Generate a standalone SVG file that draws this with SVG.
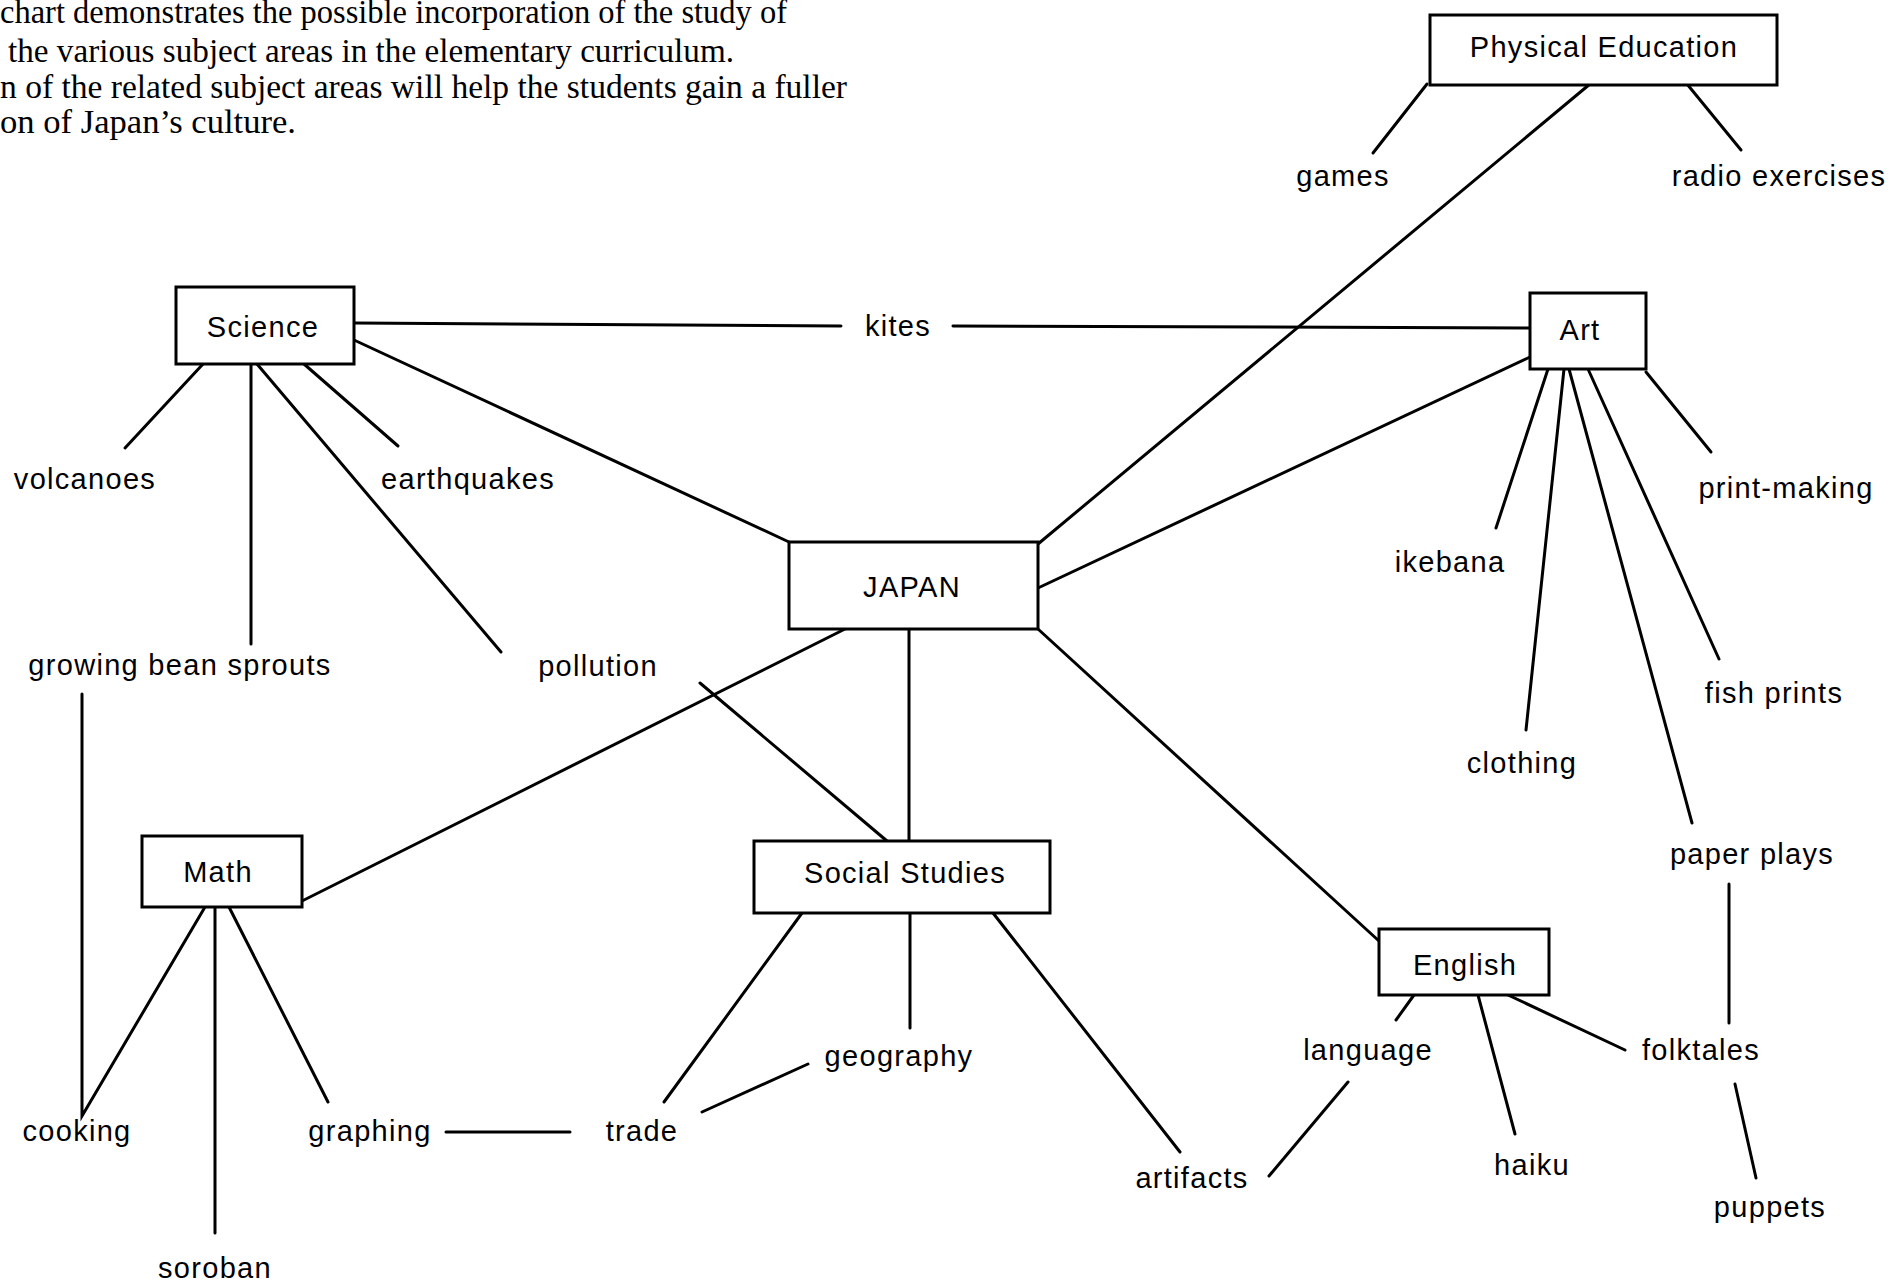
<svg xmlns="http://www.w3.org/2000/svg" width="1892" height="1286" viewBox="0 0 1892 1286">
<style>
.hdr{font-family:"Liberation Serif","Times New Roman",serif;font-size:34px;fill:#000}
.lbl{font-family:"Liberation Sans",Arial,sans-serif;font-size:29px;letter-spacing:1.3px;fill:#000;text-anchor:middle}
.box{fill:#fff;stroke:#000;stroke-width:3}
.cn line,.cn polyline{stroke:#000;stroke-width:3;fill:none;stroke-linecap:round}
</style>
<rect width="1892" height="1286" fill="#fff"/>
<g id="header">
<text class="hdr" x="0" y="23" textLength="787" lengthAdjust="spacingAndGlyphs">chart demonstrates the possible incorporation of the study of</text>
<text class="hdr" x="8" y="62" textLength="726" lengthAdjust="spacingAndGlyphs">the various subject areas in the elementary curriculum.</text>
<text class="hdr" x="0" y="98" textLength="847" lengthAdjust="spacingAndGlyphs">n of the related subject areas will help the students gain a fuller</text>
<text class="hdr" x="0" y="133" textLength="296" lengthAdjust="spacingAndGlyphs">on of Japan’s culture.</text>
</g>
<g id="connectors" class="cn">
<line x1="1427" y1="84" x2="1373" y2="153"/>
<line x1="1590" y1="84" x2="1038" y2="544"/>
<line x1="1687" y1="84" x2="1741" y2="150"/>
<line x1="203" y1="364" x2="125" y2="448"/>
<line x1="251" y1="364" x2="251" y2="644"/>
<line x1="257" y1="364" x2="501" y2="652"/>
<line x1="304" y1="364" x2="398" y2="446"/>
<line x1="354" y1="340" x2="789" y2="542"/>
<line x1="354" y1="323" x2="841" y2="326"/>
<line x1="953" y1="326" x2="1530" y2="328"/>
<line x1="1530" y1="357" x2="1038" y2="588"/>
<line x1="1548" y1="369" x2="1496" y2="528"/>
<line x1="1564" y1="369" x2="1526" y2="730"/>
<line x1="1569" y1="369" x2="1692" y2="823"/>
<line x1="1588" y1="369" x2="1719" y2="659"/>
<line x1="1646" y1="372" x2="1711" y2="452"/>
<line x1="845" y1="629" x2="302" y2="901"/>
<line x1="909" y1="629" x2="909" y2="841"/>
<line x1="1038" y1="629" x2="1379" y2="941"/>
<line x1="700" y1="683" x2="887" y2="841"/>
<polyline points="82,694 82,1116 205,907"/>
<line x1="215" y1="907" x2="215" y2="1233"/>
<line x1="229" y1="907" x2="328" y2="1102"/>
<line x1="446" y1="1132" x2="570" y2="1132"/>
<line x1="664" y1="1102" x2="802" y2="913"/>
<line x1="702" y1="1112" x2="808" y2="1064"/>
<line x1="910" y1="913" x2="910" y2="1028"/>
<line x1="993" y1="913" x2="1180" y2="1152"/>
<line x1="1414" y1="995" x2="1396" y2="1020"/>
<line x1="1478" y1="995" x2="1515" y2="1134"/>
<line x1="1508" y1="995" x2="1625" y2="1050"/>
<line x1="1348" y1="1082" x2="1269" y2="1176"/>
<line x1="1729" y1="884" x2="1729" y2="1023"/>
<line x1="1735" y1="1084" x2="1756" y2="1178"/>
</g>
<g id="node-pe"><rect class="box" x="1430" y="15" width="347" height="70"/><text class="lbl" x="1604" y="57">Physical Education</text></g>
<g id="node-science"><rect class="box" x="176" y="287" width="178" height="77"/><text class="lbl" x="263" y="337">Science</text></g>
<g id="node-art"><rect class="box" x="1530" y="293" width="116" height="76"/><text class="lbl" x="1580" y="340">Art</text></g>
<g id="node-japan"><rect class="box" x="789" y="542" width="249" height="87"/><text class="lbl" x="912" y="597">JAPAN</text></g>
<g id="node-math"><rect class="box" x="142" y="836" width="160" height="71"/><text class="lbl" x="218" y="882">Math</text></g>
<g id="node-social"><rect class="box" x="754" y="841" width="296" height="72"/><text class="lbl" x="905" y="883">Social Studies</text></g>
<g id="node-english"><rect class="box" x="1379" y="929" width="170" height="66"/><text class="lbl" x="1465" y="975">English</text></g>
<g id="leaf-games"><text class="lbl" x="1343" y="186">games</text></g>
<g id="leaf-radio"><text class="lbl" x="1779" y="186">radio exercises</text></g>
<g id="leaf-volcanoes"><text class="lbl" x="85" y="489">volcanoes</text></g>
<g id="leaf-earthquakes"><text class="lbl" x="468" y="489">earthquakes</text></g>
<g id="leaf-bean"><text class="lbl" x="180" y="675">growing bean sprouts</text></g>
<g id="leaf-pollution"><text class="lbl" x="598" y="676">pollution</text></g>
<g id="leaf-kites"><text class="lbl" x="898" y="336">kites</text></g>
<g id="leaf-ikebana"><text class="lbl" x="1450" y="572">ikebana</text></g>
<g id="leaf-printmaking"><text class="lbl" x="1786" y="498">print-making</text></g>
<g id="leaf-fishprints"><text class="lbl" x="1774" y="703">fish prints</text></g>
<g id="leaf-clothing"><text class="lbl" x="1522" y="773">clothing</text></g>
<g id="leaf-paperplays"><text class="lbl" x="1752" y="864">paper plays</text></g>
<g id="leaf-cooking"><text class="lbl" x="77" y="1141">cooking</text></g>
<g id="leaf-soroban"><text class="lbl" x="215" y="1278">soroban</text></g>
<g id="leaf-graphing"><text class="lbl" x="370" y="1141">graphing</text></g>
<g id="leaf-trade"><text class="lbl" x="642" y="1141">trade</text></g>
<g id="leaf-geography"><text class="lbl" x="899" y="1066">geography</text></g>
<g id="leaf-artifacts"><text class="lbl" x="1192" y="1188">artifacts</text></g>
<g id="leaf-language"><text class="lbl" x="1368" y="1060">language</text></g>
<g id="leaf-haiku"><text class="lbl" x="1532" y="1175">haiku</text></g>
<g id="leaf-folktales"><text class="lbl" x="1701" y="1060">folktales</text></g>
<g id="leaf-puppets"><text class="lbl" x="1770" y="1217">puppets</text></g>
</svg>
